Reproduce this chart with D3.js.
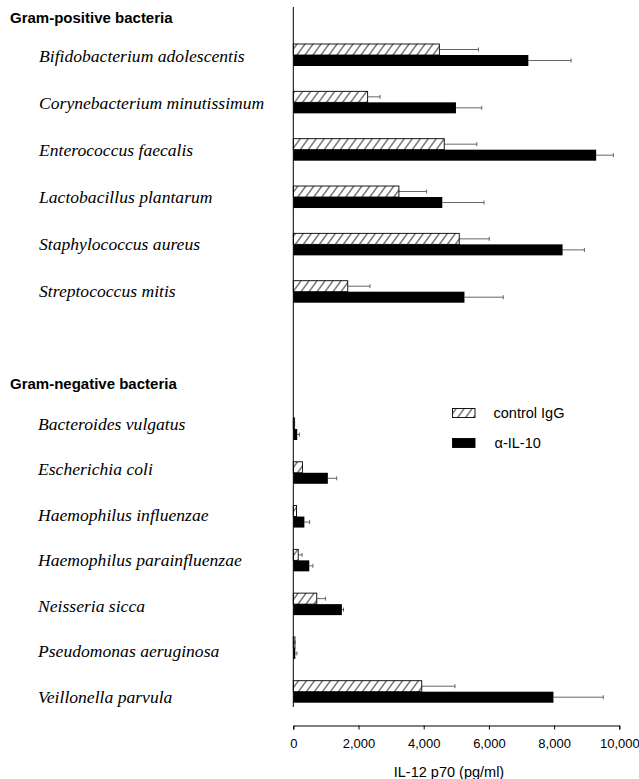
<!DOCTYPE html>
<html><head><meta charset="utf-8">
<script src="https://cdn.jsdelivr.net/npm/d3@7"></script>
<style>body{margin:0;background:#fff}</style>
</head><body>
<svg id="chart" width="639" height="779"></svg>
<script>
// ---- data ----
const posCategories = ["Bifidobacterium adolescentis","Corynebacterium minutissimum","Enterococcus faecalis","Lactobacillus plantarum","Staphylococcus aureus","Streptococcus mitis"];
const posControl    = [4480, 2280, 4630, 3240, 5090, 1670];
const posControlErr = [5680, 2660, 5630, 4090, 6010, 2350];
const posAnti       = [7210, 4990, 9290, 4570, 8260, 5250];
const posAntiErr    = [8520, 5780, 9820, 5850, 8930, 6440];

const negCategories = ["Bacteroides vulgatus","Escherichia coli","Haemophilus influenzae","Haemophilus parainfluenzae","Neisseria sicca","Pseudomonas aeruginosa","Veillonella parvula"];
const negControl    = [40, 280, 100, 150, 720, 50, 3940];
const negControlErr = [40, 280, 100, 270, 990, 50, 4960];
const negAnti       = [120, 1060, 340, 490, 1490, 60, 7980];
const negAntiErr    = [190, 1330, 500, 600, 1540, 110, 9510];

const xTicks = [0, 2000, 4000, 6000, 8000, 10000];
const groupTitles = ["Gram-positive bacteria", "Gram-negative bacteria"];
const seriesNames = ["control IgG", "α-IL-10"];

// ---- drawing ----
const svg = d3.select("#chart");
const x = d3.scaleLinear().domain([0, 10000]).range([293.3, 619.3]);
const barH = 11;

const defs = svg.append("defs");
const pat = defs.append("pattern").attr("id","hatch").attr("patternUnits","userSpaceOnUse")
  .attr("width", 8).attr("height", 11).attr("patternTransform","skewX(-36)");
pat.append("rect").attr("width",8).attr("height",11).attr("fill","#fff");
pat.append("line").attr("x1",1).attr("x2",1).attr("y1",0).attr("y2",11).attr("stroke","#000").attr("stroke-width",1);

function makeRows(cats, ctl, ctlE, anti, antiE){
  return cats.map((c,i)=>({name:c, ctl:ctl[i], ctlE:ctlE[i], anti:anti[i], antiE:antiE[i]}));
}
const groups = [
  {rows: makeRows(posCategories,posControl,posControlErr,posAnti,posAntiErr),
   barScale: d3.scalePoint().domain(posCategories).range([55, 291.7]),
   labelScale: d3.scalePoint().domain(posCategories).range([56, 291]),
   titleY: 18, labelX: 39},
  {rows: makeRows(negCategories,negControl,negControlErr,negAnti,negAntiErr),
   barScale: d3.scalePoint().domain(negCategories).range([429, 691.7]),
   labelScale: d3.scalePoint().domain(negCategories).range([424, 697]),
   titleY: 384, labelX: 38}
];

groups.forEach((g, gi) => {
  svg.append("text").attr("x", 10).attr("y", g.titleY).attr("dy","0.35em")
    .attr("font-family","'Liberation Sans', Arial, sans-serif").attr("font-weight","bold")
    .attr("font-size", 15).text(groupTitles[gi]);
  svg.append("g").selectAll("text").data(g.rows).join("text")
    .attr("x", g.labelX).attr("y", d => g.labelScale(d.name)).attr("dy","0.33em")
    .attr("font-family","'Liberation Serif', 'Times New Roman', serif").attr("font-style","italic")
    .attr("font-size", 17.6).text(d => d.name);

  const rg = svg.append("g").selectAll("g").data(g.rows).join("g");
  // error bars
  rg.append("line").attr("x1", d=>x(d.ctl)).attr("x2", d=>x(d.ctlE))
    .attr("y1", d=>g.barScale(d.name)-barH/2).attr("y2", d=>g.barScale(d.name)-barH/2)
    .attr("stroke","#555").attr("stroke-width",0.9);
  rg.append("line").attr("x1", d=>x(d.ctlE)).attr("x2", d=>x(d.ctlE))
    .attr("y1", d=>g.barScale(d.name)-barH/2-2).attr("y2", d=>g.barScale(d.name)-barH/2+2)
    .attr("stroke","#555").attr("stroke-width",0.9);
  rg.append("line").attr("x1", d=>x(d.anti)).attr("x2", d=>x(d.antiE))
    .attr("y1", d=>g.barScale(d.name)+barH/2).attr("y2", d=>g.barScale(d.name)+barH/2)
    .attr("stroke","#555").attr("stroke-width",0.9);
  rg.append("line").attr("x1", d=>x(d.antiE)).attr("x2", d=>x(d.antiE))
    .attr("y1", d=>g.barScale(d.name)+barH/2-2).attr("y2", d=>g.barScale(d.name)+barH/2+2)
    .attr("stroke","#555").attr("stroke-width",0.9);
  // bars
  rg.append("rect").attr("x", x(0)).attr("y", d=>g.barScale(d.name)-barH)
    .attr("width", d=>x(d.ctl)-x(0)).attr("height", barH)
    .attr("fill","url(#hatch)").attr("stroke","#000").attr("stroke-width",0.9);
  rg.append("rect").attr("x", x(0)).attr("y", d=>g.barScale(d.name))
    .attr("width", d=>x(d.anti)-x(0)).attr("height", barH)
    .attr("fill","#000");
});

// vertical baseline
svg.append("line").attr("x1", x(0)).attr("x2", x(0)).attr("y1", 7).attr("y2", 707)
  .attr("stroke","#000").attr("stroke-width",1);

// x axis
const xAxis = d3.axisBottom(x).tickValues(xTicks).tickFormat(d3.format(",")).tickSizeOuter(0).tickSize(4);
const ax = svg.append("g").attr("transform","translate(0,725.5)").call(xAxis);
ax.select(".domain").attr("stroke","#000");
ax.selectAll(".tick line").attr("stroke","#000");
ax.selectAll(".tick text").attr("font-family","'Liberation Sans', Arial, sans-serif").attr("font-size",13).attr("fill","#000").attr("dy","1.2em");

svg.append("text").attr("x", 449).attr("y", 772).attr("dy","0.35em").attr("text-anchor","middle")
  .attr("font-family","'Liberation Sans', Arial, sans-serif").attr("font-size",14.5)
  .text("IL-12 p70 (pg/ml)");

// legend
const legY = [413, 443];
const lg = svg.append("g").selectAll("g").data(seriesNames).join("g");
lg.append("rect").attr("x",452.5).attr("y",(d,i)=>legY[i]-4.5).attr("width",22.5).attr("height",9)
  .attr("fill",(d,i)=> i===0 ? "url(#hatch)" : "#000").attr("stroke","#000").attr("stroke-width",0.9);
lg.append("text").attr("x",(d,i)=> i===0 ? 493.5 : 494.5).attr("y",(d,i)=>legY[i]).attr("dy","0.35em")
  .attr("font-family","'Liberation Sans', Arial, sans-serif").attr("font-size",14.5).text(d=>d);
</script>
</body></html>
